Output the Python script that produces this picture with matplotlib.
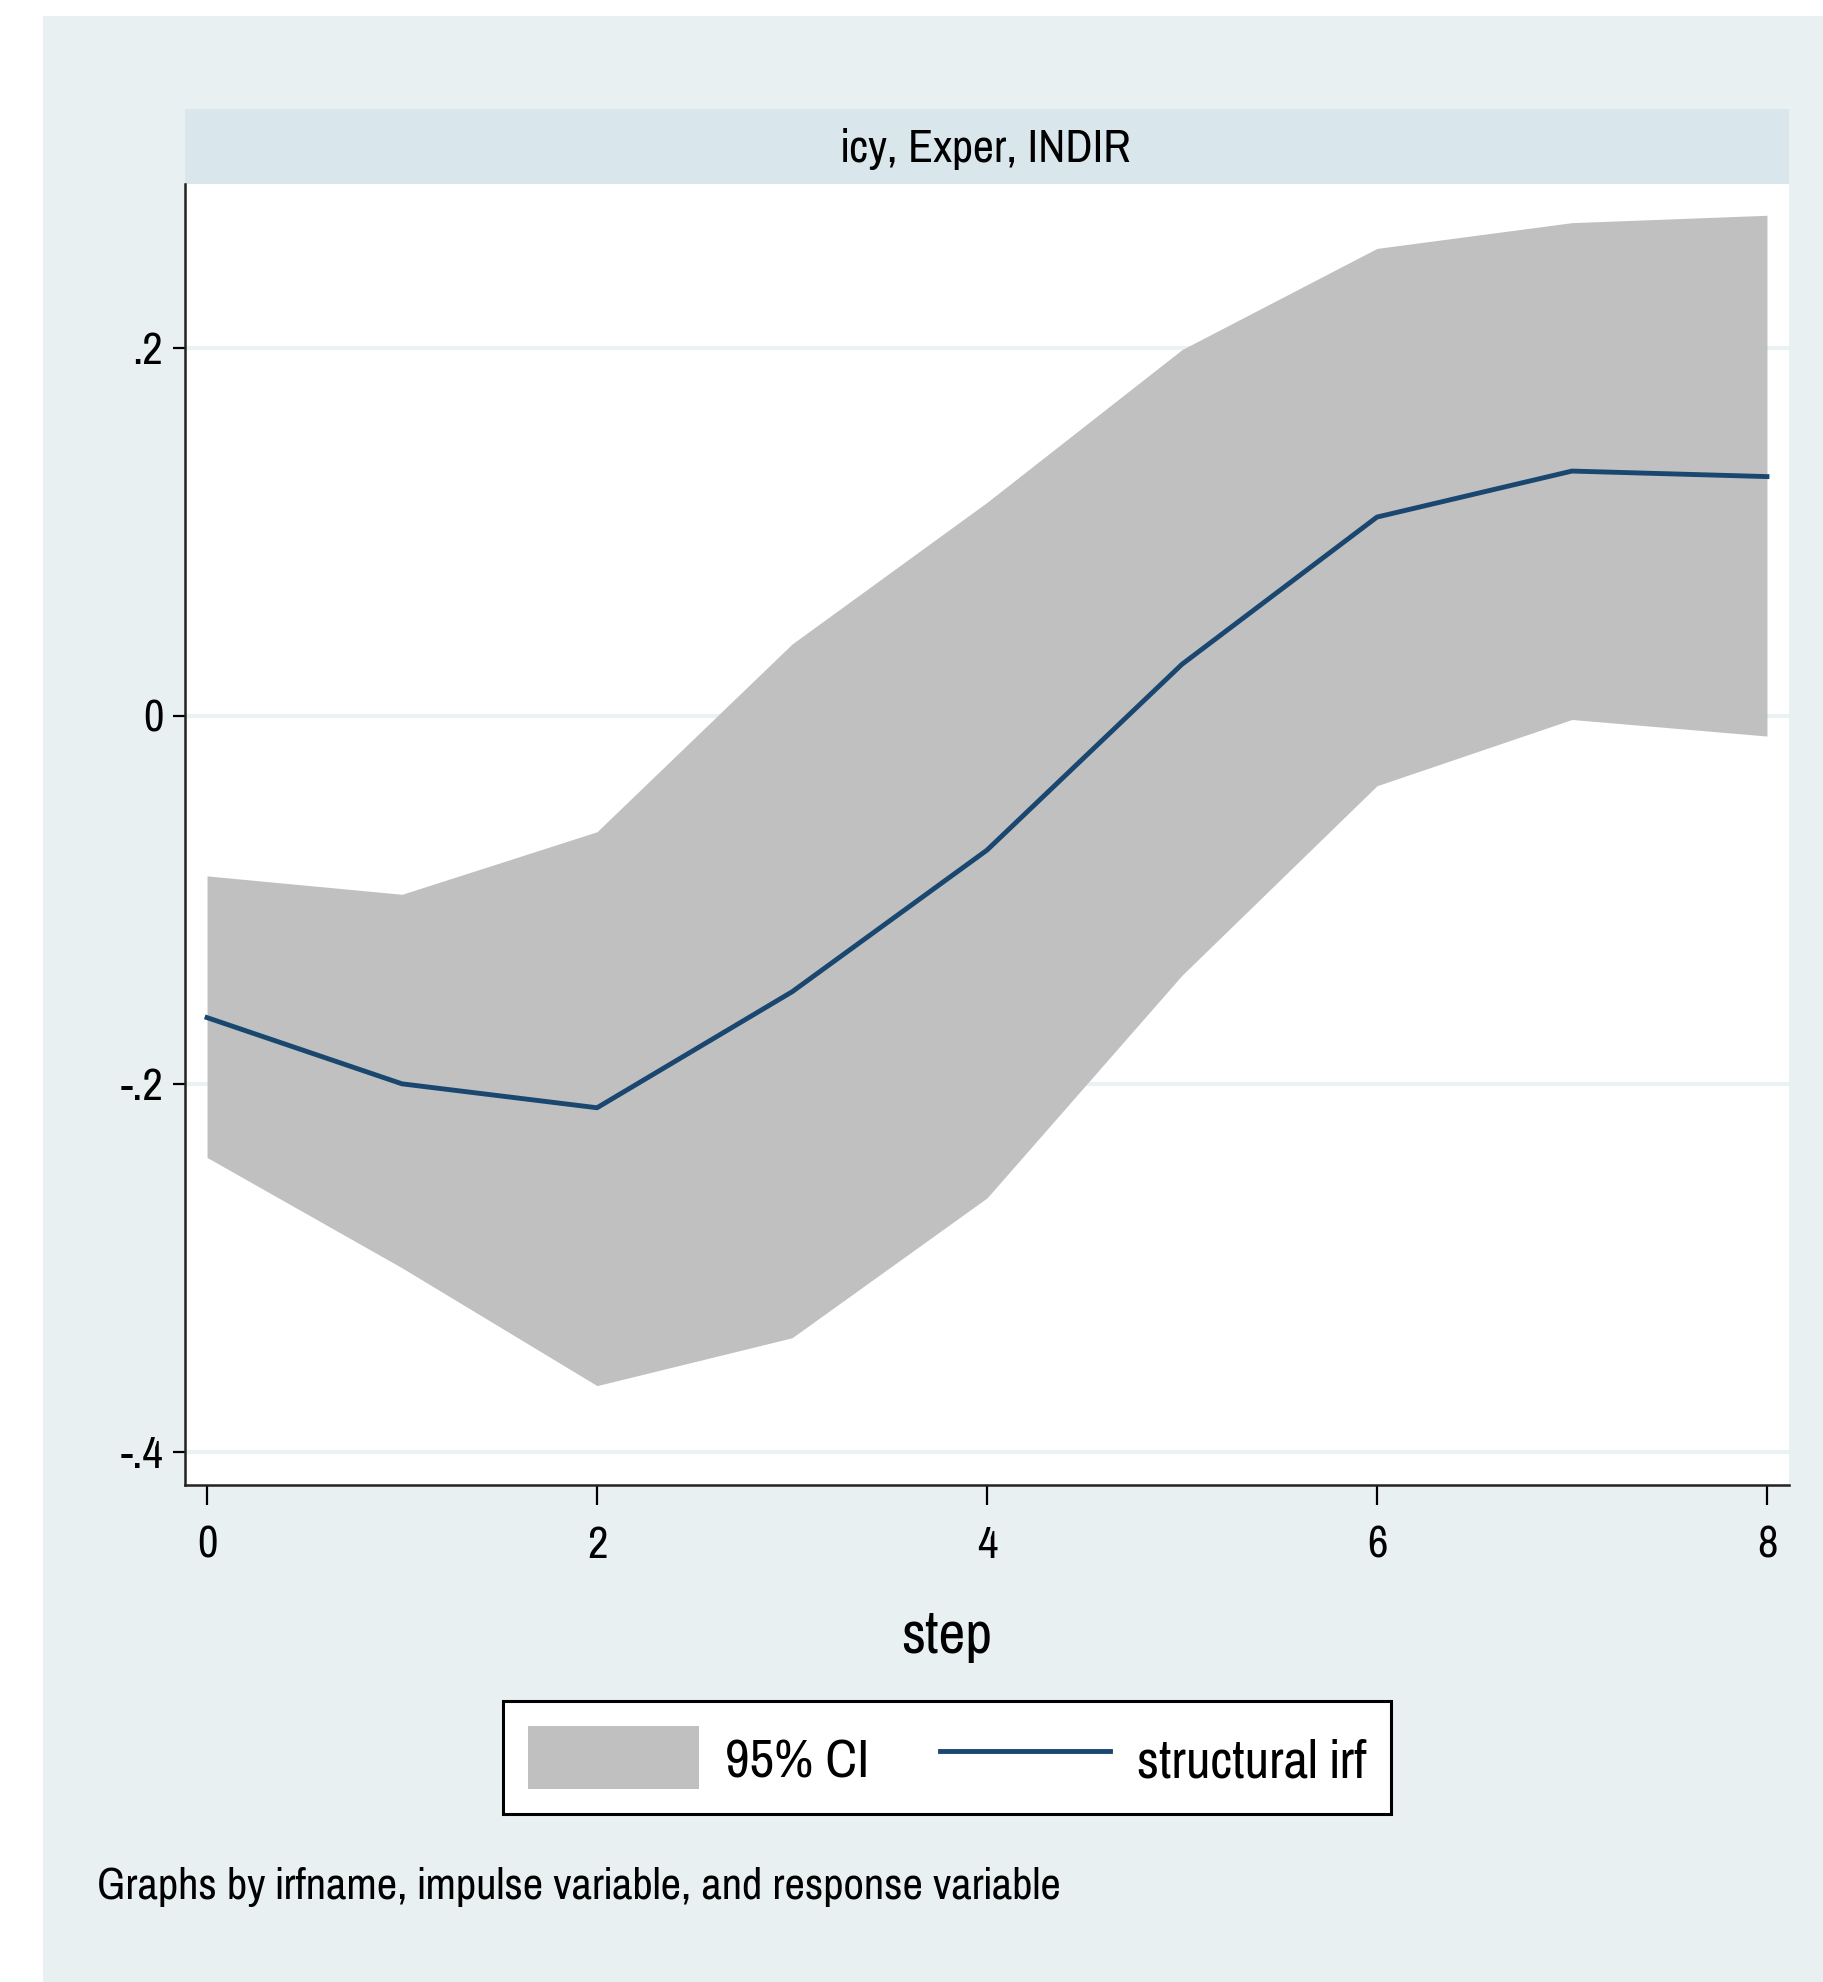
import matplotlib
matplotlib.use('Agg')
import matplotlib.pyplot as plt
from matplotlib.patches import Rectangle

plt.rcParams['font.family'] = ['Pragati Narrow', 'Archivo Narrow', 'Liberation Sans', 'DejaVu Sans']

# structural IRF with 95% band, impulse Exper -> response INDIR
step = [0, 1, 2, 3, 4, 5, 6, 7, 8]
sirf = [-0.164, -0.200, -0.213, -0.150, -0.073, 0.028, 0.108, 0.133, 0.130]
ci_lo = [-0.240, -0.300, -0.364, -0.338, -0.262, -0.141, -0.038, -0.002, -0.011]
ci_hi = [-0.087, -0.097, -0.063, 0.039, 0.116, 0.199, 0.254, 0.268, 0.272]

yticks = [-0.4, -0.2, 0, 0.2]
ylabels = ['-.4', '-.2', '0', '.2']
xticks = [0, 2, 4, 6, 8]

bg = '#e8f0f2'
strip = '#d9e6eb'
navy = '#1a476f'

W, H = 1823, 1982
fig = plt.figure(figsize=(W / 100, H / 100), dpi=100)

# graph region (white margin on the left and top)
fig.patches.append(Rectangle((43 / W, 0), 1, 1 - 16 / H, transform=fig.transFigure,
                             facecolor=bg, edgecolor='none', zorder=-10))

ax = fig.add_axes([185 / W, 1 - 1485 / H, (1789 - 185) / W, (1485 - 184) / H])
ax.set_facecolor('white')

# by-group header strip
fig.patches.append(Rectangle((185 / W, 1 - 184 / H), (1789 - 185) / W, 75 / H,
                             transform=fig.transFigure, facecolor=strip,
                             edgecolor='none', zorder=-5))
fig.text(986 / W, 1 - 162 / H, 'icy, Exper, INDIR', ha='center', va='baseline', fontsize=36)

ax.fill_between(step, ci_lo, ci_hi, color='#c0c0c0', linewidth=0, label='95% CI', zorder=2)
ax.plot(step, sirf, color=navy, lw=3.5, label='structural irf', zorder=3)

ax.set_xlim(-0.113, 8.113)
ax.set_ylim(-0.418, 0.289)
ax.set_yticks(yticks)
ax.set_yticklabels(ylabels)
ax.set_xticks(xticks)
ax.grid(axis='y', color='#eaf2f3', lw=2.9, zorder=1)
ax.set_axisbelow(True)

for s in ['top', 'right']:
    ax.spines[s].set_visible(False)
for s in ['left', 'bottom']:
    ax.spines[s].set_linewidth(1.8)
    ax.spines[s].set_color('#222222')

ax.tick_params(axis='y', length=8.6, width=1.6, pad=7, labelsize=35)
ax.tick_params(axis='x', length=14.4, width=1.6, pad=15, labelsize=35)

fig.text(947 / W, 1 - 1653 / H, 'step', ha='center', va='baseline', fontsize=46)

h, l = ax.get_legend_handles_labels()
leg = fig.legend(h, l, loc='center', bbox_to_anchor=(947 / W, 1 - 1757.5 / H), ncol=2,
                 fontsize=42, frameon=True, fancybox=False, framealpha=1,
                 handlelength=2.93, handleheight=1.3, handletextpad=0.45,
                 columnspacing=1.2, borderpad=0.42)
leg.get_frame().set_edgecolor('black')
leg.get_frame().set_linewidth(2.2)

fig.text(97 / W, 1 - 1899 / H, 'Graphs by irfname, impulse variable, and response variable',
         ha='left', va='baseline', fontsize=34.9)

fig.savefig('out.png', dpi=100, facecolor='white')
